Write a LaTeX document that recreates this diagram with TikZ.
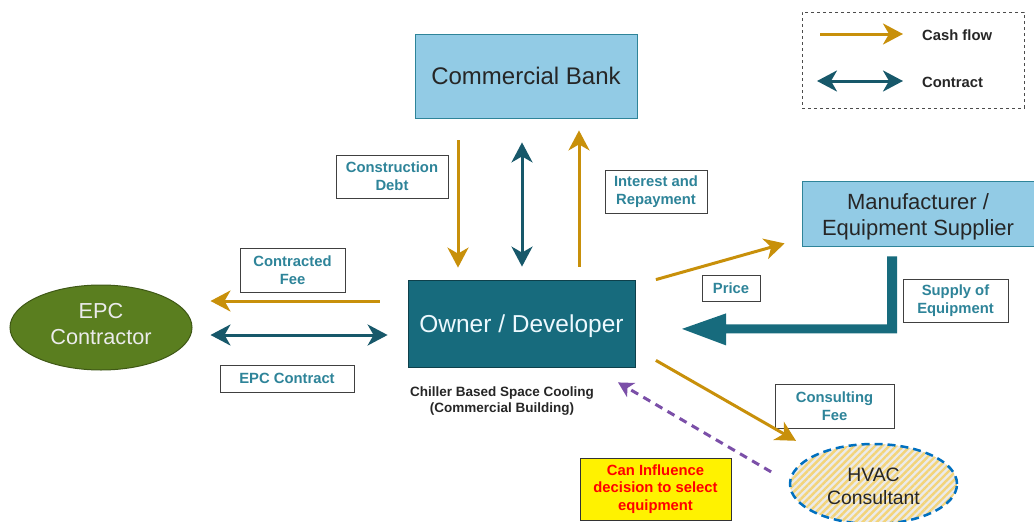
\documentclass[tikz,border=0pt]{standalone}
\usepackage{fontspec}
\setmainfont{Liberation Sans}
\usetikzlibrary{arrows.meta,shapes.geometric,patterns.meta}
\definecolor{gold}{HTML}{C8900A}
\definecolor{tealdk}{HTML}{17586A}
\definecolor{lbl}{HTML}{2E8499}
\definecolor{lblue}{HTML}{92CBE5}
\definecolor{ownerc}{HTML}{176B7D}
\definecolor{epcc}{HTML}{5A7E1F}
\definecolor{purp}{HTML}{7B4FA8}
\definecolor{hvacb}{HTML}{0070C0}
\definecolor{stripe}{HTML}{F3D47A}
\newcommand\shtxt[2]{\raisebox{#1}[\height][\depth]{\begin{tabular}{@{}c@{}}#2\end{tabular}}}
\tikzset{
  cash/.style={draw=gold, line width=3pt, -{Stealth[length=20pt,width=21pt,inset=6pt]}},
  contr/.style={draw=tealdk, line width=3pt, {Stealth[length=20pt,width=21pt,inset=6pt]}-{Stealth[length=20pt,width=21pt,inset=6pt]}},
  lblbox/.style={draw=black!75, line width=0.9pt, fill=white, font=\fontsize{14.8}{18}\selectfont\bfseries, text=lbl, align=center, inner sep=0pt},
  bigbox/.style={draw=lbl, line width=0.8pt, fill=lblue, text=black!85, inner sep=0pt},
}
\begin{document}
\begin{tikzpicture}[x=1pt,y=-1pt]
\useasboundingbox (0,0) rectangle (1034,522);
% legend
\node[draw=black!70, dashed, line width=0.8pt, minimum width=222pt, minimum height=96pt, inner sep=0pt] (legend) at (913,60) {};
\coordinate (lc1) at (820,34); \coordinate (lc2) at (903,34);
\coordinate (lt1) at (817,81); \coordinate (lt2) at (903,81);
\draw[cash] (lc1) -- (lc2);
\draw[contr] (lt1) -- (lt2);
\node[anchor=west, font=\fontsize{14.8}{18}\selectfont\bfseries, text=black!85, inner sep=0pt] (lcash) at (922,35) {Cash flow};
\node[anchor=west, font=\fontsize{14.8}{18}\selectfont\bfseries, text=black!85, inner sep=0pt] (lcon) at (922,82) {Contract};
% main boxes
\node[bigbox, minimum width=222pt, minimum height=84pt, font=\fontsize{24}{28}\selectfont] (bank) at (526,76) {Commercial Bank};
\node[bigbox, minimum width=232pt, minimum height=65pt, font=\fontsize{22}{26}\selectfont] (manu) at (918,213.5) {\shtxt{-4pt}{Manufacturer /\\Equipment Supplier}};
\node[draw=ownerc!60!black, line width=0.8pt, fill=ownerc, minimum width=227pt, minimum height=87pt, inner sep=0pt, font=\fontsize{24.5}{28}\selectfont, text=white!93!cyan] (owner) at (521.5,323.5) {\raisebox{-3pt}[\height][\depth]{Owner / Developer}};
\node[ellipse, draw=epcc!70!black, line width=1pt, fill=epcc, minimum width=182pt, minimum height=85pt, inner sep=0pt, font=\fontsize{21.7}{26}\selectfont, text=white!92!black] (epc) at (101,327.5) {\shtxt{1.5pt}{EPC\\Contractor}};
\node[ellipse, draw=hvacb, dashed, dash pattern=on 8pt off 5pt, line width=2.5pt, preaction={fill=white!92!black}, pattern={Lines[angle=45,distance=5pt,line width=2.4pt]}, pattern color=stripe, minimum width=167pt, minimum height=80pt, inner sep=0pt, font=\fontsize{19.4}{22.5}\selectfont, text=black!85] (hvac) at (873.5,484) {\shtxt{-4.5pt}{HVAC\\Consultant}};
% labels
\node[lblbox, minimum width=112pt, minimum height=43pt] (cdebt) at (392,176.5) {Construction\\Debt};
\node[lblbox, minimum width=102pt, minimum height=43pt] (irep) at (656,191.5) {Interest and\\Repayment};
\node[lblbox, minimum width=105pt, minimum height=44pt] (cfee) at (292.5,270) {Contracted\\Fee};
\node[lblbox, minimum width=134pt, minimum height=27pt] (econ) at (287,378.5) {EPC Contract};
\node[lblbox, minimum width=58pt, minimum height=26pt] (price) at (731,288) {Price};
\node[lblbox, minimum width=105pt, minimum height=43pt] (supply) at (955.5,300.5) {Supply of\\Equipment};
\node[lblbox, minimum width=119pt, minimum height=44pt] (confee) at (834.5,406) {Consulting\\Fee};
\node[draw=black!80, line width=0.9pt, fill=yellow, minimum width=151pt, minimum height=62pt, inner sep=0pt, align=center, font=\fontsize{14.8}{17.5}\selectfont\bfseries, text=red] (infl) at (655.5,489) {Can Influence\\decision to select\\equipment};
\node[align=center, font=\fontsize{13.5}{16}\selectfont\bfseries, text=black!85, inner sep=0pt] (chiller) at (502,401) {Chiller Based Space Cooling\\(Commercial Building)};
% connectors bank-owner
\draw[cash] ([xshift=-68pt,yshift=-22pt]bank.south) -- ([xshift=-63.5pt,yshift=12pt]owner.north);
\draw[contr] ([xshift=-4pt,yshift=-24pt]bank.south) -- ([xshift=0.5pt,yshift=13pt]owner.north);
\draw[cash] ([xshift=57.5pt,yshift=13pt]owner.north) -- ([xshift=53pt,yshift=-12pt]bank.south);
% owner-epc
\draw[cash] ([xshift=-28pt,yshift=22.5pt]owner.west) -- ([xshift=18pt,yshift=26.5pt]epc.east);
\draw[contr] ([xshift=18pt,yshift=-7.5pt]epc.east) -- ([xshift=-20pt,yshift=-11.5pt]owner.west);
% owner-manu
\draw[cash] ([xshift=20.5pt,yshift=0pt]owner.north east) -- ([xshift=-17pt,yshift=3pt]manu.south west);
% supply arrow
\coordinate (sp0) at ([xshift=-31pt,yshift=-10pt]manu.south);
\fill[ownerc] (sp0) -- ++(10,0) -- ++(0,77) -- ++(-171,0) -- ++(0,12) -- ++(-44,-16.5) -- ++(44,-15.5) -- ++(0,11) -- ++(161,0) -- cycle;
% owner-hvac
\draw[cash] ([xshift=20.5pt,yshift=7pt]owner.south east) -- ([xshift=-77.5pt,yshift=2pt]hvac.north);
\draw[draw=purp, line width=3pt, dash pattern=on 8pt off 6pt, -{Stealth[length=15pt,width=16pt,inset=4pt]}] ([xshift=-42.5pt,yshift=-17pt]hvac.north west) -- ([xshift=96.5pt,yshift=-15pt]owner.south);
\end{tikzpicture}
\end{document}
